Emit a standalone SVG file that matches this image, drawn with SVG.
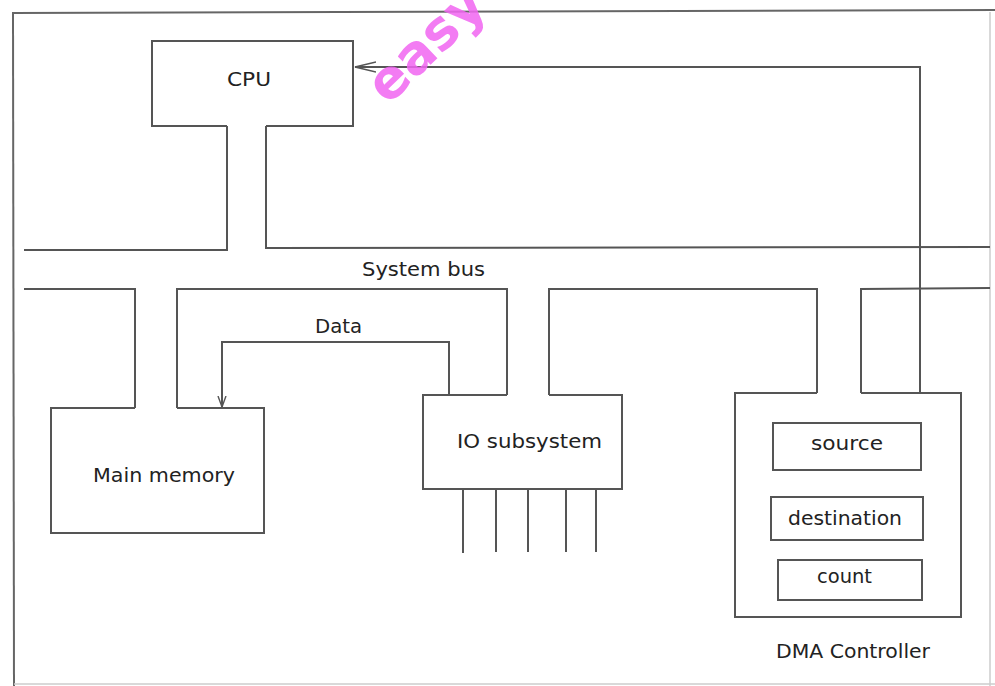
<svg xmlns="http://www.w3.org/2000/svg" width="995" height="686" viewBox="0 0 995 686">
<defs>
<marker id="openArrow" viewBox="0 0 12 10" refX="11" refY="5" markerWidth="12" markerHeight="10" markerUnits="userSpaceOnUse" orient="auto">
<path d="M0,1 L11,5 L0,9" fill="none" stroke="#555" stroke-width="1.4"/>
</marker>
<marker id="longArrow" viewBox="0 0 22 12" refX="21" refY="6" markerWidth="22" markerHeight="12" markerUnits="userSpaceOnUse" orient="auto">
<path d="M0,1 L21,6 L0,11" fill="none" stroke="#555" stroke-width="1.4"/>
</marker>
<style>
.ln{fill:none;stroke:#555;stroke-width:2}
.box{fill:none;stroke:#555;stroke-width:2}
.lbl{font-family:"DejaVu Sans",Verdana,sans-serif;font-size:20px;fill:#222}
.frame{fill:none;stroke:#666;stroke-width:2}
.faint{fill:none;stroke:#ccc;stroke-width:1.5}
</style>
</defs>
<rect width="995" height="686" fill="#fff"/>
<g id="frame">
<line class="frame" x1="13" y1="13" x2="995" y2="10"/>
<line class="frame" x1="13" y1="12" x2="14" y2="686"/>
<line class="faint" x1="990" y1="12" x2="990" y2="686"/>
<line class="faint" x1="14" y1="684" x2="995" y2="684"/>
</g>
<g id="connectors">
<path class="ln" d="M227,126 L227,250 L24,250"/>
<path class="ln" d="M266,126 L266,248 L990,247"/>
<text class="lbl" x="362" y="276" textLength="123" lengthAdjust="spacingAndGlyphs">System bus</text>
<path class="ln" d="M24,289 L135,289 L135,408"/>
<path class="ln" d="M177,408 L177,289 L507,289 L507,395"/>
<path class="ln" d="M549,395 L549,289 L817,289 L817,393"/>
<path class="ln" d="M861,393 L861,289 L990,288"/>
<path class="ln" d="M920,393 L920,67 L355,67" marker-end="url(#longArrow)"/>
<path class="ln" d="M449,395 L449,342 L222,342 L222,407" marker-end="url(#openArrow)"/>
<text class="lbl" x="315" y="333" textLength="47" lengthAdjust="spacingAndGlyphs">Data</text>
<path class="ln" d="M463,489 L463,553 M496,489 L496,552 M528,489 L528,552 M566,489 L566,552 M596,489 L596,552"/>
</g>
<g id="cpu">
<path class="box" d="M227,126 L152,126 L152,41 L353,41 L353,126 L266,126"/>
<text class="lbl" x="227" y="86" textLength="44" lengthAdjust="spacingAndGlyphs">CPU</text>
</g>
<g id="main-memory">
<path class="box" d="M135,408 L51,408 L51,533 L264,533 L264,408 L177,408"/>
<text class="lbl" x="93" y="482" textLength="142" lengthAdjust="spacingAndGlyphs">Main memory</text>
</g>
<g id="io-subsystem">
<path class="box" d="M507,395 L423,395 L423,489 L622,489 L622,395 L549,395"/>
<text class="lbl" x="457" y="448" textLength="145" lengthAdjust="spacingAndGlyphs">IO subsystem</text>
</g>
<g id="dma-controller">
<path class="box" d="M817,393 L735,393 L735,617 L961,617 L961,393 L861,393"/>
<text class="lbl" x="776" y="658" textLength="154" lengthAdjust="spacingAndGlyphs">DMA Controller</text>
<g id="source">
<rect class="box" x="773" y="423" width="148" height="47"/>
<text class="lbl" x="811" y="450" textLength="72" lengthAdjust="spacingAndGlyphs">source</text>
</g>
<g id="destination">
<rect class="box" x="771" y="497" width="152" height="43"/>
<text class="lbl" x="788" y="525" textLength="114" lengthAdjust="spacingAndGlyphs">destination</text>
</g>
<g id="count">
<rect class="box" x="778" y="560" width="144" height="40"/>
<text class="lbl" x="817" y="583" textLength="55" lengthAdjust="spacingAndGlyphs">count</text>
</g>
</g>
<g id="watermark">
<text x="388" y="106" transform="rotate(-44 388 106)" font-family="'DejaVu Sans',Verdana,sans-serif" font-size="54" font-weight="bold" fill="#f266f2" opacity="0.85">easy</text>
</g>
</svg>
